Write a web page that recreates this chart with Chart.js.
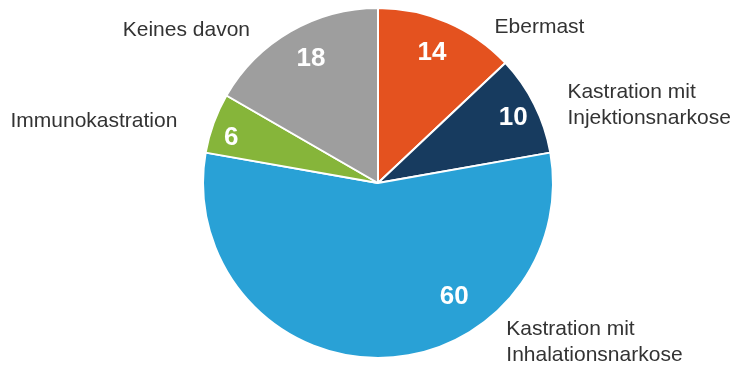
<!DOCTYPE html>
<html>
<head>
<meta charset="utf-8">
<script src="https://cdn.jsdelivr.net/npm/chart.js@4/dist/chart.umd.min.js"></script>
<style>
  html, body { margin: 0; padding: 0; background: #fff; }
  #wrap { width: 734px; height: 373px; }
</style>
</head>
<body>
<div id="wrap"><canvas id="pie"></canvas></div>
<script>
// Chart data (clockwise from top)
const categories = [
  ['Ebermast'],
  ['Kastration mit', 'Injektionsnarkose'],
  ['Kastration mit', 'Inhalationsnarkose'],
  ['Immunokastration'],
  ['Keines davon']
];
const values = [14, 10, 60, 6, 18];
const sliceColors = ['#e4521f', '#173b5f', '#29a1d6', '#86b53a', '#9e9e9e'];

// Where each label sits relative to its slice: t = fraction along the slice angle,
// r = fraction of the outer radius
const valuePlacement = [
  { t: 0.48, r: 0.81 },
  { t: 0.52, r: 0.86 },
  { t: 0.33, r: 0.78 },
  { t: 0.38, r: 0.88 },
  { t: 0.53, r: 0.81 }
];
const namePlacement = [
  { t: 0.79, r: 1.11, align: 'left' },
  { t: 0.63, r: 1.17, align: 'left' },
  { t: 0.306, r: 1.17, align: 'left' },
  { t: 0.36, r: 1.20, align: 'right' },
  { t: 0.335, r: 1.14, align: 'right' }
];

const pieLabels = {
  id: 'pieLabels',
  afterDatasetsDraw(chart) {
    const ctx = chart.ctx;
    const arcs = chart.getDatasetMeta(0).data;
    ctx.save();
    ctx.textBaseline = 'middle';
    arcs.forEach((arc, i) => {
      const { x, y, startAngle, endAngle, outerRadius } = arc.getProps(['x', 'y', 'startAngle', 'endAngle', 'outerRadius'], true);
      const span = endAngle - startAngle;

      // value inside slice
      const vp = valuePlacement[i];
      const va = startAngle + span * vp.t;
      ctx.fillStyle = '#ffffff';
      ctx.font = 'bold 26px "Liberation Sans", Arial, sans-serif';
      ctx.textAlign = 'center';
      ctx.fillText(String(values[i]), x + Math.cos(va) * outerRadius * vp.r, y + 1 + Math.sin(va) * outerRadius * vp.r);

      // category name outside
      const np = namePlacement[i];
      const na = startAngle + span * np.t;
      const nx = x + Math.cos(na) * outerRadius * np.r;
      const ny = y + Math.sin(na) * outerRadius * np.r;
      const lines = categories[i];
      const lh = 26;
      ctx.fillStyle = '#333333';
      ctx.font = '21px "Liberation Sans", Arial, sans-serif';
      ctx.textAlign = np.align;
      lines.forEach((line, k) => {
        ctx.fillText(line, nx, ny + (k - (lines.length - 1) / 2) * lh);
      });
    });
    ctx.restore();
  }
};

new Chart(document.getElementById('pie'), {
  type: 'pie',
  data: {
    labels: categories.map(c => c.join(' ')),
    datasets: [{
      data: values,
      backgroundColor: sliceColors,
      borderColor: '#ffffff',
      borderWidth: 2
    }]
  },
  options: {
    responsive: true,
    maintainAspectRatio: false,
    animation: false,
    layout: {
      padding: { top: 7, bottom: 14, left: 202, right: 180 }
    },
    plugins: {
      legend: { display: false },
      tooltip: { enabled: false }
    }
  },
  plugins: [pieLabels]
});
</script>
</body>
</html>
